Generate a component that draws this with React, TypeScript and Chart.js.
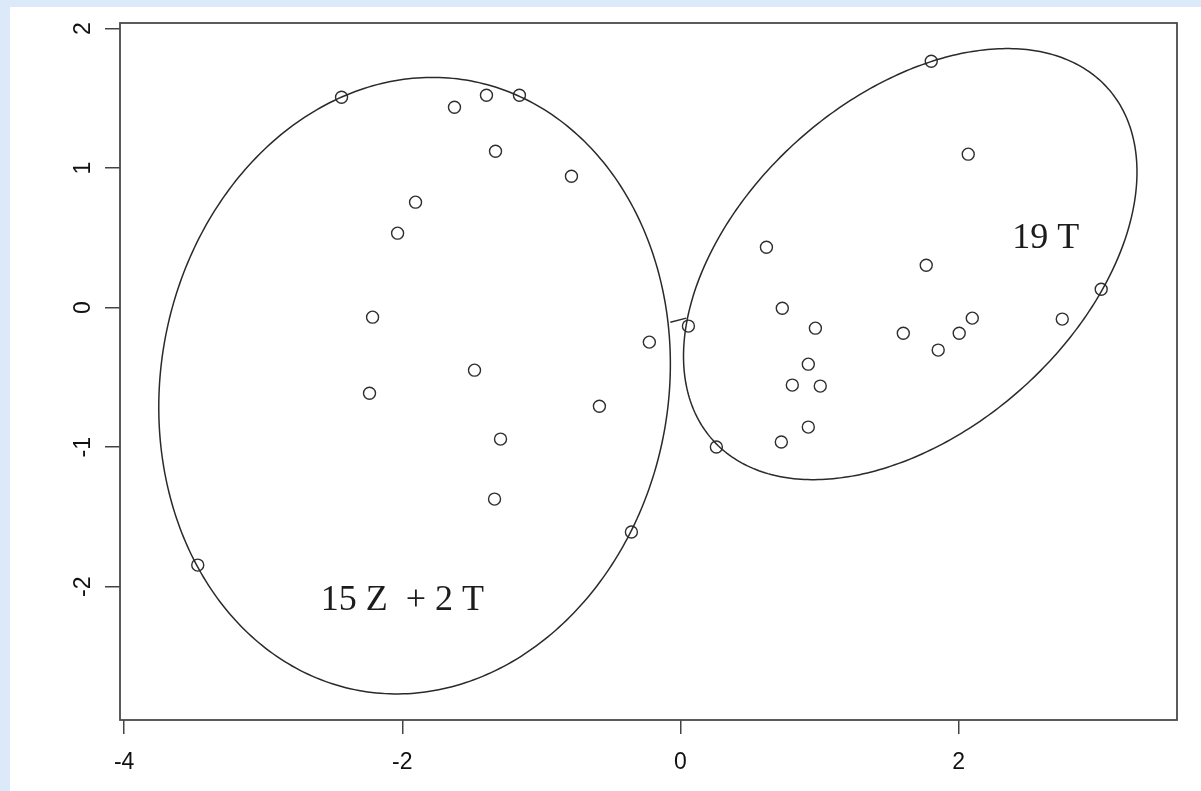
import React, { useEffect, useRef } from "react";
import { Chart, registerables } from "chart.js";

Chart.register(...registerables);

// ---- Data ----
const clusterZX = [-2.437, -1.625, -1.395, -1.158, -1.33, -0.784, -1.905, -2.034, -2.214, -0.224, -1.481, -2.236, -0.583, -1.294, -1.337, -0.353, -3.471];
const clusterZY = [1.508, 1.436, 1.522, 1.522, 1.121, 0.942, 0.756, 0.534, -0.068, -0.247, -0.448, -0.613, -0.706, -0.942, -1.372, -1.608, -1.845];

const clusterTX = [1.803, 2.069, 0.618, 1.767, 3.025, 0.732, 0.057, 0.97, 2.098, 2.745, 1.602, 2.004, 1.853, 0.919, 0.804, 1.005, 0.919, 0.725, 0.258];
const clusterTY = [1.766, 1.1, 0.433, 0.304, 0.132, -0.004, -0.132, -0.147, -0.075, -0.082, -0.183, -0.183, -0.304, -0.405, -0.555, -0.562, -0.856, -0.963, -0.999];

const xTicks = [-4, -2, 0, 2];
const yTicks = [-2, -1, 0, 1, 2];
const xRange = [-4.03, 3.57];
const yRange = [-2.955, 2.04];

// cluster ellipses (data units)
const ellipseCenterX = [-1.912, 1.652];
const ellipseCenterY = [-0.559, 0.312];
const ellipseSemiMajor = [2.221, 1.899];
const ellipseSemiMinor = [1.825, 1.199];
const ellipseAngleDeg = [79.6, 41.4];

// segment joining the two ellipses
const linkX = [-0.073, 0.042];
const linkY = [-0.104, -0.075];

// cluster annotations
const labelTexts = ["15 Z  + 2 T", "19 T"];
const labelX = [-1.999, 2.626];
const labelY = [-2.102, 0.494];

const overlayPlugin = {
  id: "clusOverlay",
  afterDatasetsDraw(chart: any) {
    const { ctx, chartArea } = chart;
    const xs = chart.scales.x;
    const ys = chart.scales.y;
    ctx.save();
    ctx.strokeStyle = "#2a2a2a";
    ctx.lineWidth = 1.5;
    for (let i = 0; i < ellipseCenterX.length; i++) {
      const phi = (ellipseAngleDeg[i] * Math.PI) / 180;
      ctx.beginPath();
      for (let k = 0; k <= 360; k++) {
        const t = (k * Math.PI) / 180;
        const u = ellipseSemiMajor[i] * Math.cos(t);
        const v = ellipseSemiMinor[i] * Math.sin(t);
        const dx = ellipseCenterX[i] + u * Math.cos(phi) - v * Math.sin(phi);
        const dy = ellipseCenterY[i] + u * Math.sin(phi) + v * Math.cos(phi);
        const px = xs.getPixelForValue(dx);
        const py = ys.getPixelForValue(dy);
        if (k === 0) ctx.moveTo(px, py);
        else ctx.lineTo(px, py);
      }
      ctx.closePath();
      ctx.stroke();
    }
    // link segment
    ctx.beginPath();
    ctx.moveTo(xs.getPixelForValue(linkX[0]), ys.getPixelForValue(linkY[0]));
    ctx.lineTo(xs.getPixelForValue(linkX[1]), ys.getPixelForValue(linkY[1]));
    ctx.stroke();

    // box
    ctx.strokeStyle = "#4a4a4a";
    ctx.lineWidth = 1.8;
    ctx.strokeRect(chartArea.left, chartArea.top, chartArea.right - chartArea.left, chartArea.bottom - chartArea.top);

    // annotations
    ctx.fillStyle = "#1c1c1c";
    ctx.font = "36px 'Liberation Serif', 'Times New Roman', serif";
    ctx.textAlign = "center";
    ctx.textBaseline = "middle";
    for (let i = 0; i < labelTexts.length; i++) {
      ctx.fillText(labelTexts[i], xs.getPixelForValue(labelX[i]), ys.getPixelForValue(labelY[i]));
    }
    ctx.restore();
  },
};

export default function App() {
  const canvasRef = useRef<HTMLCanvasElement | null>(null);

  useEffect(() => {
    const canvas = canvasRef.current;
    if (!canvas) return;
    const pointStyle = {
      pointRadius: 6,
      pointHoverRadius: 6,
      pointBorderWidth: 1.4,
      pointBorderColor: "#2e2e2e",
      pointBackgroundColor: "rgba(0,0,0,0)",
      showLine: false,
    };
    const tickFont = { family: "'Liberation Sans', Arial, sans-serif", size: 23 };
    const chart = new Chart(canvas, {
      type: "scatter",
      data: {
        datasets: [
          {
            label: "15 Z + 2 T",
            data: clusterZX.map((x, i) => ({ x, y: clusterZY[i] })),
            ...pointStyle,
          },
          {
            label: "19 T",
            data: clusterTX.map((x, i) => ({ x, y: clusterTY[i] })),
            ...pointStyle,
          },
        ],
      },
      options: {
        animation: false,
        responsive: false,
        devicePixelRatio: 1,
        layout: { padding: { left: 0, top: 23, right: 24, bottom: 0 } },
        plugins: {
          legend: { display: false },
          tooltip: { enabled: false },
          title: { display: false },
        },
        scales: {
          x: {
            type: "linear",
            min: xRange[0],
            max: xRange[1],
            afterBuildTicks: (s: any) => {
              s.ticks = xTicks.map((v) => ({ value: v }));
            },
            afterFit: (s: any) => {
              s.height = 71;
              s.paddingLeft = 0;
              s.paddingRight = 0;
            },
            grid: {
              display: true,
              drawOnChartArea: false,
              drawTicks: true,
              tickLength: 14,
              color: "#444444",
              lineWidth: 1.5,
            },
            border: { display: false },
            ticks: {
              autoSkip: false,
              maxRotation: 0,
              minRotation: 0,
              padding: 15,
              color: "#111111",
              font: tickFont,
              callback: (v: any) => String(v),
            },
          },
          y: {
            type: "linear",
            min: yRange[0],
            max: yRange[1],
            afterBuildTicks: (s: any) => {
              s.ticks = yTicks.map((v) => ({ value: v }));
            },
            afterFit: (s: any) => {
              s.width = 120;
              s.paddingTop = 0;
              s.paddingBottom = 0;
            },
            grid: {
              display: true,
              drawOnChartArea: false,
              drawTicks: true,
              tickLength: 15,
              color: "#444444",
              lineWidth: 1.5,
            },
            border: { display: false },
            ticks: {
              autoSkip: false,
              minRotation: 90,
              maxRotation: 90,
              crossAlign: "center",
              padding: 11,
              color: "#111111",
              font: tickFont,
              callback: (v: any) => String(v),
            },
          },
        },
      },
      plugins: [overlayPlugin],
    } as any);
    return () => {
      chart.destroy();
    };
  }, []);

  return (
    <div
      style={{
        position: "fixed",
        left: 0,
        top: 0,
        width: 1201,
        height: 791,
        overflow: "hidden",
        background: "#dbe9f9",
      }}
    >
      <div
        style={{
          position: "absolute",
          left: 10,
          top: 7,
          width: 1191,
          height: 784,
          background: "#ffffff",
        }}
      />
      <canvas
        ref={canvasRef}
        width={1201}
        height={791}
        style={{ position: "absolute", left: 0, top: 0, width: 1201, height: 791 }}
      />
    </div>
  );
}
